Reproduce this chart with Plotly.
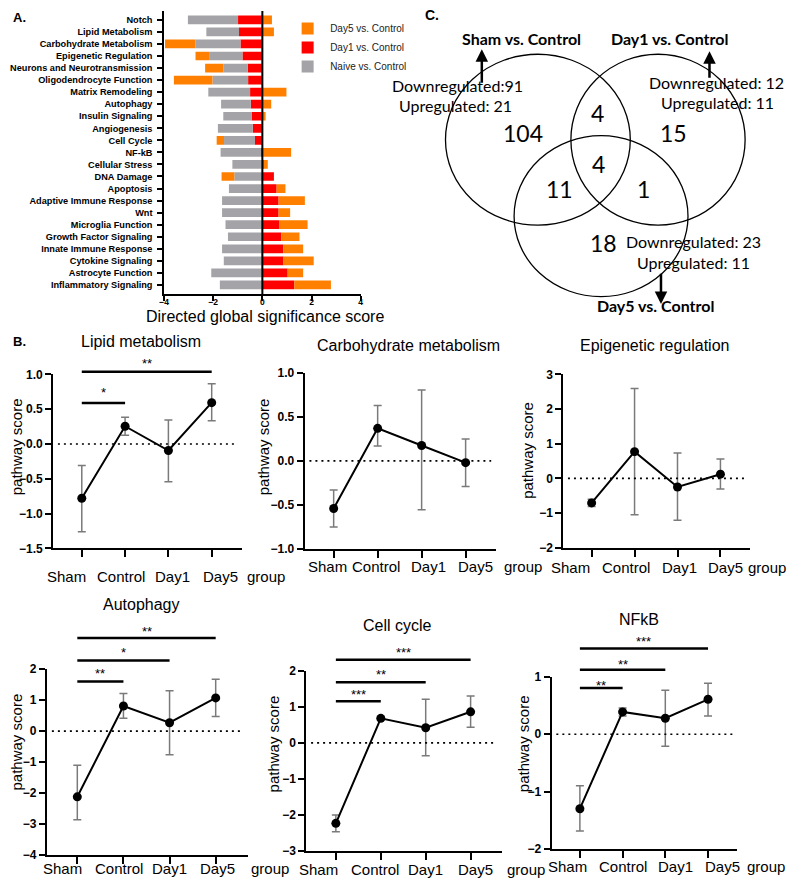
import plotly.graph_objects as go

W, H = 789, 887


def X(px):
    return px / W


def Y(py):
    return 1 - py / H


FONT = "Liberation Sans"
VFONT = "Lato"

# ---------------- Panel A data ----------------
pathways = ["Notch", "Lipid Metabolism", "Carbohydrate Metabolism", "Epigenetic Regulation",
            "Neurons and Neurotransmission", "Oligodendrocyte Function", "Matrix Remodeling",
            "Autophagy", "Insulin Signaling", "Angiogenesis", "Cell Cycle", "NF-kB",
            "Cellular Stress", "DNA Damage", "Apoptosis", "Adaptive Immune Response", "Wnt",
            "Microglia Function", "Growth Factor Signaling", "Innate Immune Response",
            "Cytokine Signaling", "Astrocyte Function", "Inflammatory Signaling"]
day1_vs_control = [-0.99, -0.95, -0.89, -0.81, -0.60, -0.58, -0.50, -0.47, -0.44, -0.39, -0.30,
                   -0.05, 0.05, 0.47, 0.58, 0.66, 0.66, 0.70, 0.77, 0.85, 0.86, 1.03, 1.30]
naive_vs_control = [-2.04, -1.33, -1.84, -1.33, -0.98, -1.45, -1.70, -1.21, -1.15, -1.42, -1.26,
                    -1.65, -1.22, -1.14, -1.36, -1.64, -1.64, -1.50, -1.40, -1.64, -1.57, -2.08, -1.73]
day5_vs_control = [0.39, 0.47, -1.23, -0.58, -0.75, -1.57, 0.98, 0.36, 0.13, 0.0, -0.30,
                   1.17, 0.17, -0.52, 0.36, 1.07, 0.47, 1.14, 0.74, 0.81, 1.23, 0.63, 1.49]
a_xticks = [-4, -2, 0, 2, 4]

# ---------------- Panel B data ----------------
groups = ["Sham", "Control", "Day1", "Day5"]

lipid_mean = [-0.78, 0.255, -0.094, 0.594]
lipid_plus = [0.47, 0.13, 0.44, 0.27]
lipid_minus = [0.48, 0.13, 0.45, 0.26]

carb_mean = [-0.54, 0.37, 0.175, -0.02]
carb_plus = [0.21, 0.26, 0.63, 0.27]
carb_minus = [0.21, 0.20, 0.73, 0.27]

epi_mean = [-0.71, 0.77, -0.25, 0.12]
epi_plus = [0.11, 1.82, 0.98, 0.44]
epi_minus = [0.10, 1.82, 0.96, 0.43]

auto_mean = [-2.12, 0.81, 0.27, 1.07]
auto_plus = [1.02, 0.40, 1.03, 0.60]
auto_minus = [0.74, 0.40, 1.03, 0.60]

cell_mean = [-2.23, 0.68, 0.42, 0.86]
cell_plus = [0.23, 0.05, 0.79, 0.44]
cell_minus = [0.23, 0.05, 0.78, 0.43]

nfkb_mean = [-1.30, 0.39, 0.28, 0.61]
nfkb_plus = [0.40, 0.07, 0.49, 0.28]
nfkb_minus = [0.39, 0.07, 0.49, 0.29]

# significance comparisons: (group_a, group_b, label)
lipid_sig = [("Sham", "Day5", "**"), ("Sham", "Control", "*")]
auto_sig = [("Sham", "Day5", "**"), ("Sham", "Day1", "*"), ("Sham", "Control", "**")]
cell_sig = [("Sham", "Day5", "***"), ("Sham", "Day1", "**"), ("Sham", "Control", "***")]
nfkb_sig = [("Sham", "Day5", "***"), ("Sham", "Day1", "**"), ("Sham", "Control", "**")]

# Venn data
venn_sets = ["Sham vs. Control", "Day1 vs. Control", "Day5 vs. Control"]
venn_counts = {"S": 104, "D1": 15, "D5": 18, "S&D1": 4, "S&D5": 11, "D1&D5": 1, "all": 4}
venn_down = [91, 12, 23]
venn_up = [21, 11, 11]

fig = go.Figure()


def ann(text, px, py, size, family=FONT, **kw):
    d = dict(text=text, x=X(px), y=Y(py), xref="paper", yref="paper", showarrow=False,
             xanchor="center", yanchor="middle", font=dict(family=family, size=size,
                                                          color="black"))
    d.update(kw)
    return d


# ---------------- Panel A ----------------
ORANGE, RED, GREY = "#FF8000", "#FF0000", "#A4A4A8"
fig.add_trace(go.Bar(y=pathways, x=day1_vs_control, orientation="h", name="Day1 vs. Control",
                     marker=dict(color=RED, line=dict(width=0)), legendrank=2,
                     xaxis="x", yaxis="y"))
fig.add_trace(go.Bar(y=pathways, x=naive_vs_control, orientation="h", name="Naive vs. Control",
                     marker=dict(color=GREY, line=dict(width=0)), legendrank=3,
                     xaxis="x", yaxis="y"))
fig.add_trace(go.Bar(y=pathways, x=day5_vs_control, orientation="h", name="Day5 vs. Control",
                     marker=dict(color=ORANGE, line=dict(width=0)), legendrank=1,
                     xaxis="x", yaxis="y"))

layout = dict(
    width=W, height=H, margin=dict(l=0, r=0, t=0, b=0),
    paper_bgcolor="white", plot_bgcolor="rgba(0,0,0,0)",
    barmode="relative", bargap=0.28,
    font=dict(family=FONT, color="black"),
    showlegend=True,
    legend=dict(x=X(283), y=Y(7), xanchor="left", yanchor="top",
                font=dict(family=FONT, size=10, color="#222"),
                traceorder="normal", itemwidth=35,
                bgcolor="rgba(0,0,0,0)"),
    xaxis=dict(domain=[X(160.7), X(359.3)], range=[-4, 4], tickvals=a_xticks,
               showline=True, linecolor="black", linewidth=1.5, ticks="outside",
               ticklen=5, tickwidth=1.5, tickcolor="black", showgrid=False, zeroline=False,
               tickfont=dict(family=FONT, size=8.5, weight="bold", color="black"), anchor="y",
               ticklabelstandoff=-6),
    yaxis=dict(domain=[Y(291.7), Y(4)], type="category", categoryarray=pathways,
               categoryorder="array", range=[22.76, -0.74],
               showline=True, linecolor="black", linewidth=1.5, ticks="outside",
               ticklen=5, tickwidth=1.5, tickcolor="black", showgrid=False,
               tickfont=dict(family=FONT, size=9.2, weight="bold", color="black"), anchor="x",
               ticklabelstandoff=3),
)

shapes = []
annotations = []

# zero line panel A
shapes.append(dict(type="line", xref="x", yref="y domain", x0=0, x1=0, y0=0, y1=1,
                   line=dict(color="black", width=2)))
annotations.append(ann("Directed global significance score", 263, 314, 16))
annotations.append(ann("<b>A.</b>", 6, 11, 13, xanchor="left"))
annotations.append(ann("<b>B.</b>", 6, 340, 13, xanchor="left"))
annotations.append(ann("<b>C.</b>", 422, 8, 14, xanchor="left"))

# ---------------- Panel B ----------------
panels = [
    dict(title="Lipid metabolism", mean=lipid_mean, plus=lipid_plus, minus=lipid_minus,
         sig=lipid_sig, xp=(48.7, 239), yp=(373.3, 550), yr=[-1.5, 1.0], dtick=0.5, fmt=".1f",
         tpos=(137.7, 340), yt=(11.7, 446.7), lab=578.3, labx=[61.7, 117.2, 169.2, 218],
         grp=242, bars=[370.7, 402.3], stars=[359.3, 388.3]),
    dict(title="Carbohydrate metabolism", mean=carb_mean, plus=carb_plus, minus=carb_minus,
         sig=[], xp=(302.7, 496), yp=(371.7, 550.7), yr=[-1.0, 1.0], dtick=0.5, fmt=".1f",
         tpos=(407.7, 344.3), yt=(262, 447), lab=568.3, labx=[325.8, 375.3, 427.5, 475],
         grp=501.7, bars=[], stars=[]),
    dict(title="Epigenetic regulation", mean=epi_mean, plus=epi_plus, minus=epi_minus,
         sig=[], xp=(564, 752.7), yp=(373.3, 549.3), yr=[-2, 3], dtick=1, fmt="d",
         tpos=(656, 344.3), yt=(528.3, 450), lab=569.3, labx=[571.3, 627, 681.2, 728.3],
         grp=748.7, bars=[], stars=[]),
    dict(title="Autophagy", mean=auto_mean, plus=auto_plus, minus=auto_minus,
         sig=auto_sig, xp=(42.3, 245), yp=(672.7, 861.7), yr=[-4, 2], dtick=1, fmt="d",
         tpos=(137.7, 606.7), yt=(11.7, 746.7), lab=875, labx=[58.3, 114.7, 165.8, 214.7],
         grp=246.7, bars=[641, 664, 685.3], stars=[631.7, 652.7, 674.3]),
    dict(title="Cell cycle", mean=cell_mean, plus=cell_plus, minus=cell_minus,
         sig=cell_sig, xp=(304.3, 501.7), yp=(674.3, 857.7), yr=[-3, 2], dtick=1, fmt="d",
         tpos=(396.7, 628.3), yt=(271.7, 748.3), lab=876, labx=[317, 373.8, 425, 475],
         grp=505, bars=[663.3, 686, 705.3], stars=[652.7, 675, 696]),
    dict(title="NFkB", mean=nfkb_mean, plus=nfkb_plus, minus=nfkb_minus,
         sig=nfkb_sig, xp=(552.3, 740), yp=(680.7, 855.3), yr=[-2, 1], dtick=1, fmt="d",
         tpos=(640, 622.7), yt=(524, 748.3), lab=873.3, labx=[568.3, 624.5, 677.2, 724.8],
         grp=747.7, bars=[651.7, 673.3, 692], stars=[641.7, 665, 686.7]),
]

XR = [-0.66, 3.69]
for i, p in enumerate(panels):
    k = i + 2
    xa, ya = f"x{k}", f"y{k}"
    fig.add_trace(go.Scatter(
        x=groups, y=p["mean"], mode="lines+markers", xaxis=xa, yaxis=ya, showlegend=False,
        line=dict(color="black", width=2), marker=dict(color="black", size=9),
        error_y=dict(type="data", symmetric=False, array=p["plus"], arrayminus=p["minus"],
                     color="#7A7A7A", thickness=1.5, width=4)))
    xl, xr = p["xp"]
    yt, yb = p["yp"]
    layout[f"xaxis{k}"] = dict(
        domain=[X(xl), X(xr)], range=XR, type="category", categoryarray=groups,
        showline=True, linecolor="black", linewidth=2, ticks="outside", ticklen=7,
        tickwidth=2, tickcolor="black", showgrid=False, zeroline=False, anchor=ya,
        showticklabels=False)
    layout[f"yaxis{k}"] = dict(
        domain=[Y(yb), Y(yt)], range=p["yr"], dtick=p["dtick"], tickformat=p["fmt"],
        showline=True, linecolor="black", linewidth=2, ticks="outside", ticklen=6,
        tickwidth=2, tickcolor="black", showgrid=False, zeroline=False, anchor=xa,
        tickfont=dict(family=FONT, size=12, weight="bold", color="black"))
    # category labels (placed where the reference prints them)
    for g, lx in zip(groups, p["labx"]):
        annotations.append(ann(g, lx, p["lab"], 15))
    # dotted zero line
    shapes.append(dict(type="line", xref=f"{xa} domain", yref=ya, x0=0.025, x1=0.975,
                       y0=0, y1=0, line=dict(color="black", width=1.6, dash="2px,4px")))
    annotations.append(ann(p["title"], p["tpos"][0], p["tpos"][1], 16))
    annotations.append(ann("pathway score", p["yt"][0], p["yt"][1], 15, textangle=-90))
    annotations.append(ann("group", p["grp"], p["lab"], 15, xanchor="left"))
    # significance bars
    for (ga, gb, lab), by, sy in zip(p["sig"], p["bars"], p["stars"]):
        fy = (yb - by) / (yb - yt)
        shapes.append(dict(type="line", xref=xa, yref=f"{ya} domain", x0=ga, x1=gb,
                           y0=fy, y1=fy, line=dict(color="black", width=2.5)))
        ia, ib = groups.index(ga), groups.index(gb)
        annotations.append(dict(text=lab, x=(ia + ib) / 2, xref=xa,
                                y=(yb - (sy + 3)) / (yb - yt), yref=f"{ya} domain",
                                xanchor="center", yanchor="middle", showarrow=False,
                                font=dict(family=FONT, size=13, color="black")))

# ---------------- Panel C: Venn ----------------
circles = [(445, 631.7, 48, 221.7), (571.7, 747.7, 48, 221.7), (514.3, 690, 130.7, 294.3)]
for (x0, x1, y0, y1) in circles:
    shapes.append(dict(type="circle", xref="paper", yref="paper", x0=X(x0), x1=X(x1),
                       y0=Y(y1), y1=Y(y0), line=dict(color="black", width=1.3)))

region_pos = {"S": (523, 128), "D1": (675, 128), "D5": (605, 240), "S&D1": (599, 108),
              "S&D5": (560, 185), "D1&D5": (645, 185), "all": (600, 160)}
for key, val in venn_counts.items():
    px, py = region_pos[key]
    annotations.append(ann(str(val), px, py, 23, family=VFONT))

set_label_pos = [(521.7, 32), (671, 32), (657, 303)]
for name, (px, py) in zip(venn_sets, set_label_pos):
    annotations.append(ann(f"<b>{name}</b>", px, py, 16, family=VFONT))

down_pos = [(457, 80), (719, 77), (696, 238)]
up_pos = [(455, 100), (720, 97), (696, 260)]
for i in range(3):
    sep = "" if i == 0 else " "
    annotations.append(ann(f"Downregulated:{sep}{venn_down[i]}", down_pos[i][0],
                           down_pos[i][1], 16, family=VFONT))
    annotations.append(ann(f"Upregulated: {venn_up[i]}", up_pos[i][0], up_pos[i][1], 16,
                           family=VFONT))

arrows = [(481.7, 43, 78), (711.7, 45, 73), (662.7, 301.7, 270)]
for ax_, head, tail in arrows:
    annotations.append(dict(text="", x=X(ax_), y=Y(head), xref="paper", yref="paper",
                            ax=0, ay=tail - head, showarrow=True, arrowhead=2,
                            arrowsize=1, arrowwidth=2.5, arrowcolor="black"))

layout["shapes"] = shapes
layout["annotations"] = annotations
fig.update_layout(**layout)
fig.write_html("out.html", config={"displayModeBar": False},
               post_script="document.body.style.margin='0';"
                           "document.body.style.padding='0';")
